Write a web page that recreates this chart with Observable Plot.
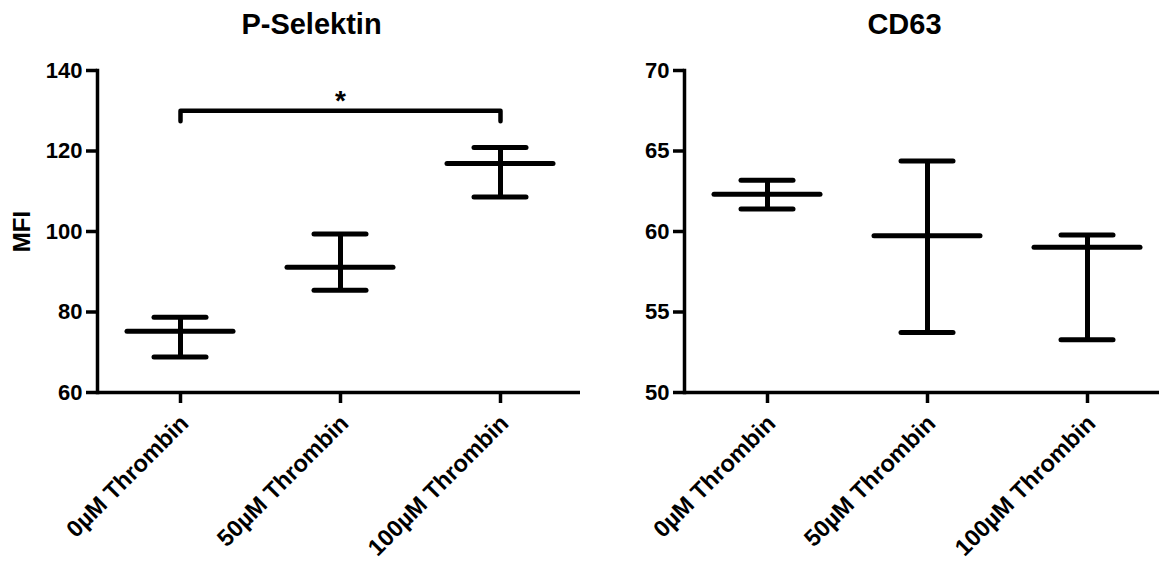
<!DOCTYPE html>
<html>
<head>
<meta charset="utf-8">
<script src="https://cdn.jsdelivr.net/npm/d3@7"></script>
<script src="https://cdn.jsdelivr.net/npm/@observablehq/plot@0.6"></script>
<style>
  html, body { margin: 0; padding: 0; background: #fff; }
  #row { display: flex; width: 1159px; height: 564px; overflow: hidden; }
  #row svg text { font-weight: bold; }
</style>
</head>
<body>
<div id="row"></div>
<script>
// ---- data ----
const categories = ["0µM Thrombin", "50µM Thrombin", "100µM Thrombin"];

const pSelTitle = "P-Selektin";
const pSelMean = [75.2, 91.1, 116.9];
const pSelLow  = [68.8, 85.4, 108.6];
const pSelHigh = [78.7, 99.4, 120.9];
const pSelTicks = [60, 80, 100, 120, 140];

const cd63Title = "CD63";
const cd63Mean = [62.32, 59.74, 59.02];
const cd63Low  = [61.39, 53.72, 53.28];
const cd63High = [63.19, 64.38, 59.78];
const cd63Ticks = [50, 55, 60, 65, 70];

const yLabel = "MFI";

// significance bracket: from/to categories, bar level, tip level, label
const sigFrom = ["0µM Thrombin"];
const sigTo = ["100µM Thrombin"];
const sigMid = ["50µM Thrombin"];
const sigBar = [130];
const sigTip = [127.4];
const sigLabel = ["*"];
const sigLabelY = [132];

const FONT = "Arial, 'Liberation Sans', Helvetica, sans-serif";

function panel({width, marginLeft, xRange, title, titleDx, means, lows, highs, ticks, ylabel, withSig}) {
  const rows = categories.map((c, i) => ({cat: c, mean: means[i], low: lows[i], high: highs[i]}));
  const AX = 3.5, BAR = 5;
  const marks = [
    Plot.axisY({ticks, tickSize: 11, tickPadding: 4, strokeWidth: AX, fontSize: 22, fontWeight: "bold", label: null}),
    Plot.axisX({tickSize: 11, strokeWidth: AX, fill: "none", label: null}),
    Plot.text(categories, {x: d => d, frameAnchor: "bottom", rotate: -45, textAnchor: "end", lineAnchor: "middle",
      fontSize: 23.5, fontWeight: "bold", dx: 4, dy: 27}),
    Plot.ruleY([ticks[0]], {strokeWidth: AX}),
    Plot.frame({anchor: "left", strokeWidth: AX}),
    Plot.ruleX(rows, {x: "cat", y1: "low", y2: "high", strokeWidth: BAR}),
    Plot.tickY(rows, {x: "cat", y: "mean", strokeWidth: BAR, strokeLinecap: "round"}),
    Plot.tickY(rows, {x: "cat", y: "low", inset: 27, strokeWidth: BAR, strokeLinecap: "round"}),
    Plot.tickY(rows, {x: "cat", y: "high", inset: 27, strokeWidth: BAR, strokeLinecap: "round"}),
    Plot.text([title], {text: d => d, frameAnchor: "top", textAnchor: "middle", lineAnchor: "middle",
      dx: titleDx, dy: -46, fontSize: 29, fontWeight: "bold"})
  ];
  if (ylabel) {
    marks.push(Plot.text([ylabel], {text: d => d, frameAnchor: "left", textAnchor: "middle", lineAnchor: "middle",
      rotate: -90, dx: -75, fontSize: 24, fontWeight: "bold"}));
  }
  if (withSig) {
    sigFrom.forEach((f, i) => {
      const pts = [
        {x: f, y: sigTip[i]}, {x: f, y: sigBar[i]},
        {x: sigTo[i], y: sigBar[i]}, {x: sigTo[i], y: sigTip[i]}
      ];
      marks.push(Plot.line(pts, {x: "x", y: "y", strokeWidth: 4.5, strokeLinejoin: "round", strokeLinecap: "round"}));
      marks.push(Plot.text([sigLabel[i]], {x: () => sigMid[i], y: () => sigLabelY[i], text: d => d,
        fontSize: 28, fontWeight: "bold", dy: -2}));
    });
  }
  return Plot.plot({
    width, height: 564,
    marginLeft, marginRight: 0, marginTop: 70, marginBottom: 172,
    style: {fontFamily: FONT, background: "#fff", color: "#000", overflow: "visible"},
    x: {type: "band", domain: categories, range: xRange, paddingInner: 0.335, paddingOuter: 0.177, label: null},
    y: {domain: [ticks[0], ticks[ticks.length - 1]], label: null},
    marks
  });
}

const row = document.getElementById("row");
row.append(panel({
  width: 580, marginLeft: 97, xRange: [97, 583], title: pSelTitle, titleDx: -27.5,
  means: pSelMean, lows: pSelLow, highs: pSelHigh, ticks: pSelTicks, ylabel: yLabel, withSig: true
}));
row.append(panel({
  width: 579, marginLeft: 104, xRange: [104, 590], title: cd63Title, titleDx: -17.5,
  means: cd63Mean, lows: cd63Low, highs: cd63High, ticks: cd63Ticks, ylabel: null, withSig: false
}));
</script>
</body>
</html>
